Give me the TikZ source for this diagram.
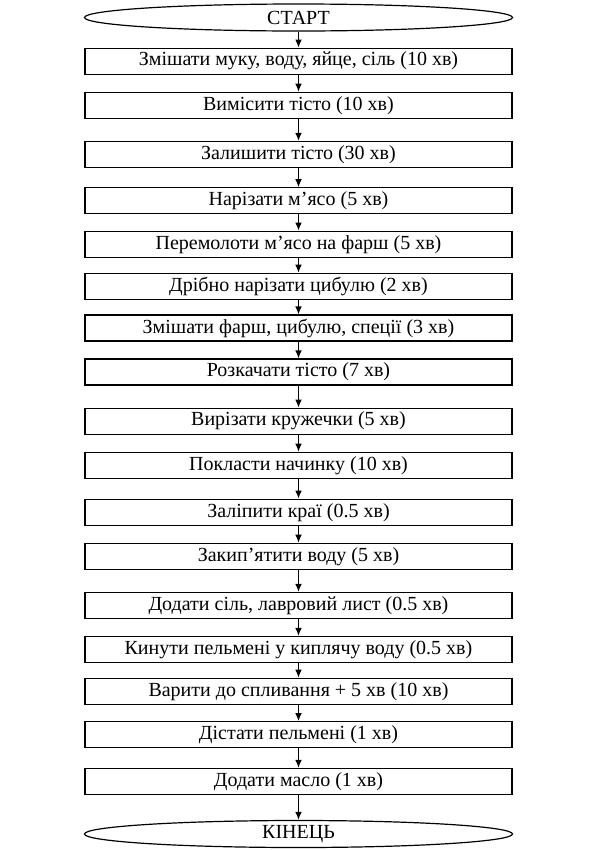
\documentclass[tikz,border=0pt]{standalone}
\usepackage{fontspec}
\setmainfont{Liberation Serif}
\usetikzlibrary{shapes.geometric,arrows.meta}
\begin{document}
\begin{tikzpicture}[x=0.75pt,y=-0.75pt,
  stepbox/.style={draw,line width=0.9pt,rectangle,minimum width=427*0.75pt,minimum height=26*0.75pt,inner sep=0pt,font=\fontsize{15pt}{17pt}\selectfont},
  term/.style={draw,line width=0.9pt,ellipse,minimum width=428*0.75pt,minimum height=27*0.75pt,inner sep=0pt,font=\fontsize{15pt}{17pt}\selectfont},
  arr/.style={line width=0.9pt,-{Latex[length=6pt,width=5pt]}}]
\useasboundingbox (0,0) rectangle (599,850);
\node[term] (s) at (298.5,17.5) {СТАРТ};
\node[stepbox] (b1) at (298.5,61.2) {Змішати муку, воду, яйце, сіль (10 хв)};
\node[stepbox] (b2) at (298.5,105.3) {Вимісити тісто (10 хв)};
\node[stepbox] (b3) at (298.5,154.5) {Залишити тісто (30 хв)};
\node[stepbox] (b4) at (298.5,200.8) {Нарізати м’ясо (5 хв)};
\node[stepbox] (b5) at (298.5,244.2) {Перемолоти м’ясо на фарш (5 хв)};
\node[stepbox] (b6) at (298.5,286.3) {Дрібно нарізати цибулю (2 хв)};
\node[stepbox] (b7) at (298.5,328) {Змішати фарш, цибулю, спеції (3 хв)};
\node[stepbox] (b8) at (298.5,372) {Розкачати тісто (7 хв)};
\node[stepbox] (b9) at (298.5,421.2) {Вирізати кружечки (5 хв)};
\node[stepbox] (b10) at (298.5,465.3) {Покласти начинку (10 хв)};
\node[stepbox] (b11) at (298.5,512.2) {Заліпити краї (0.5 хв)};
\node[stepbox] (b12) at (298.5,556.3) {Закип’ятити воду (5 хв)};
\node[stepbox] (b13) at (298.5,605.5) {Додати сіль, лавровий лист (0.5 хв)};
\node[stepbox] (b14) at (298.5,649.5) {Кинути пельмені у киплячу воду (0.5 хв)};
\node[stepbox] (b15) at (298.5,691.3) {Варити до спливання + 5 хв (10 хв)};
\node[stepbox] (b16) at (298.5,734.7) {Дістати пельмені (1 хв)};
\node[stepbox] (b17) at (298.5,781.5) {Додати масло (1 хв)};
\node[term] (e) at (298.5,834) {КІНЕЦЬ};
\foreach \a/\b in {s/b1,b1/b2,b2/b3,b3/b4,b4/b5,b5/b6,b6/b7,b7/b8,b8/b9,b9/b10,b10/b11,b11/b12,b12/b13,b13/b14,b14/b15,b15/b16,b16/b17,b17/e}
  \draw[arr] (\a.south) -- (\b.north);
\end{tikzpicture}
\end{document}
